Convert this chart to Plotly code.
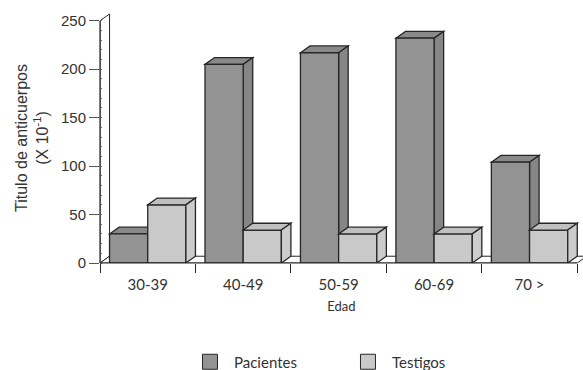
import plotly.graph_objects as go

# Age groups and antibody titres (x 10^-1)
edades = ["30-39", "40-49", "50-59", "60-69", "70 >"]
pacientes = [30, 205, 217, 232, 104]
testigos = [60, 34, 30, 30, 34]
y_tick_vals = [0, 50, 100, 150, 200, 250]

pos = list(range(len(edades)))
BAR_W = 0.4
DX, DY = 0.1, 7            # depth of the pseudo-3D boxes (x units, y units)
X_RANGE = [-0.5, 4.56]
Y_RANGE = [0, 258]
EDGE = "#262626"

SANS = "Liberation Sans, Arial, sans-serif"
HUMAN = "Lato, Open Sans, sans-serif"

series = [
    dict(name="Pacientes", values=pacientes, offset=-BAR_W,
         front="#939393", top="#898989", side="#868686", layer="below"),
    dict(name="Testigos", values=testigos, offset=0.0,
         front="#c9c9c9", top="#c0c0c0", side="#cccccc", layer="above"),
]

fig = go.Figure()
shapes = []

# back wall and floor of the 3D frame
shapes.append(dict(type="path", xref="x", yref="y", layer="below",
                   path=f"M{-0.5},{0} L{-0.5},{250} L{-0.5 + DX},{250 + DY} "
                        f"L{-0.5 + DX},{DY} Z",
                   fillcolor="white", line=dict(color=EDGE, width=1)))
shapes.append(dict(type="path", xref="x", yref="y", layer="below",
                   path=f"M{-0.5},{0} L{-0.5 + DX},{DY} L{4.5 + DX},{DY} L{4.5},{0} Z",
                   fillcolor="white", line=dict(color=EDGE, width=1)))

for s in series:
    fig.add_trace(go.Bar(
        x=pos, y=s["values"], name=s["name"], width=BAR_W, offset=s["offset"],
        marker=dict(color=s["front"], line=dict(color=EDGE, width=1.3)),
        showlegend=False,
    ))
    # legend key: larger square swatch
    fig.add_trace(go.Scatter(
        x=[None], y=[None], mode="markers", name=s["name"],
        marker=dict(symbol="square", size=15, color=s["front"],
                    line=dict(color=EDGE, width=1)),
    ))
    # top and side faces of each box
    for p, v in zip(pos, s["values"]):
        x0 = p + s["offset"]
        x1 = x0 + BAR_W
        shapes.append(dict(type="path", xref="x", yref="y", layer=s["layer"],
                           path=f"M{x0},{v} L{x0 + DX},{v + DY} L{x1 + DX},{v + DY} L{x1},{v} Z",
                           fillcolor=s["top"], line=dict(color=EDGE, width=1.3)))
        shapes.append(dict(type="path", xref="x", yref="y", layer=s["layer"],
                           path=f"M{x1},{0} L{x1 + DX},{DY} L{x1 + DX},{v + DY} L{x1},{v} Z",
                           fillcolor=s["side"], line=dict(color=EDGE, width=1.3)))

# axis lines (front edges of wall and floor)
shapes.append(dict(type="line", xref="paper", yref="y", layer="above",
                   x0=0, x1=0, y0=0, y1=250, line=dict(color=EDGE, width=1.2)))
shapes.append(dict(type="line", xref="x", yref="paper", layer="above",
                   x0=-0.5, x1=4.5, y0=0, y1=0, line=dict(color=EDGE, width=1.2)))

fig.update_layout(
    width=583, height=370,
    margin=dict(l=100, r=0, t=13, b=107, autoexpand=False),
    paper_bgcolor="white", plot_bgcolor="white",
    barmode="overlay",
    shapes=shapes,
    showlegend=True,
    legend=dict(orientation="h", x=0.178, xanchor="left", y=-0.396, yanchor="middle",
                font=dict(family=HUMAN, size=15, color="#333333"),
                entrywidth=105, itemwidth=38, traceorder="normal"),
    xaxis=dict(
        range=X_RANGE, showline=False, showgrid=False, zeroline=False,
        automargin=False,
        tickvals=pos, ticktext=edades, ticks="outside", ticklen=8,
        tickcolor="rgba(0,0,0,0)",
        tickfont=dict(family=HUMAN, size=15, color="#333333"),
        minor=dict(tickvals=[p - 0.5 for p in pos] + [pos[-1] + 0.5],
                   ticks="outside", ticklen=9, tickcolor=EDGE, tickwidth=1.2),
        title=dict(text="Edad", font=dict(family=HUMAN, size=13, color="#333333"),
                   standoff=9),
    ),
    yaxis=dict(
        range=Y_RANGE, showline=False, showgrid=False, zeroline=False,
        automargin=False,
        tickvals=y_tick_vals, ticks="outside", ticklen=10, tickcolor="#555555",
        tickfont=dict(family=SANS, size=15, color="#333333"),
        minor=dict(dtick=10, ticks="inside", ticklen=2, tickcolor="#777777"),
        title=dict(text="Titulo de anticuerpos<br>(X 10<sup>-1</sup>)",
                   font=dict(family=SANS, size=16, color="#333333"), standoff=8),
    ),
)

fig.write_html("out.html")
